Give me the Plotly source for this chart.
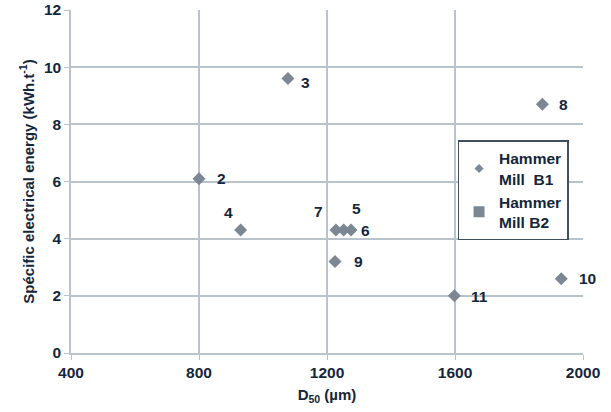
import plotly.graph_objects as go

labels = ["2", "3", "4", "5", "6", "7", "8", "9", "10", "11"]
d50 = [800, 1078, 930, 1252, 1275, 1228, 1873, 1225, 1932, 1598]
energy = [6.1, 9.6, 4.3, 4.3, 4.3, 4.3, 8.7, 3.2, 2.6, 2.0]
label_dx = [22, 18, -12, 13, 14, -17, 21, 23, 26, 25]
label_dy = [0, -4, 18, 22, 0, 19, 0, 0, 0, -1]

x_ticks = [400, 800, 1200, 1600, 2000]
y_ticks = [0, 2, 4, 6, 8, 10, 12]

marker_col = "#7b8792"
grid_col = "#b9c3cc"
text_col = "#13263a"
font_family = "Liberation Sans, Arial, sans-serif"

fig = go.Figure()
fig.add_trace(go.Scatter(
    x=d50, y=energy, mode="markers", name="Hammer Mill B1", showlegend=False,
    marker=dict(symbol="diamond", size=10, color=marker_col),
))
# legend entries
fig.add_trace(go.Scatter(
    x=[None], y=[None], mode="markers", name="<b>Hammer<br>Mill  B1</b>",
    marker=dict(symbol="diamond", size=7, color=marker_col),
))
fig.add_trace(go.Scatter(
    x=[None], y=[None], mode="markers", name="<b>Hammer<br>Mill B2</b>",
    marker=dict(symbol="square", size=11, color=marker_col),
))

for lab, xv, yv, dx, dy in zip(labels, d50, energy, label_dx, label_dy):
    fig.add_annotation(x=xv, y=yv, text="<b>%s</b>" % lab, showarrow=False,
                       xshift=dx, yshift=dy,
                       font=dict(size=15.5, color=text_col, family=font_family))

tickfont = dict(size=15.5, color=text_col, family=font_family, weight="bold")
fig.update_xaxes(range=[400, 2000], tickvals=x_ticks, showgrid=True, gridcolor=grid_col,
                 gridwidth=1.5, showline=True, linecolor=grid_col, linewidth=1.5,
                 ticks="outside", ticklen=5, tickcolor=grid_col, zeroline=False,
                 tickfont=tickfont, automargin=False,
                 title=dict(text="<b>D<sub>50</sub> (µm)</b>", standoff=9,
                            font=dict(size=15, color=text_col, family=font_family)))
fig.update_yaxes(range=[0, 12], tickvals=y_ticks, showgrid=True, gridcolor=grid_col,
                 gridwidth=1.5, showline=True, linecolor=grid_col, linewidth=1.5,
                 ticks="outside", ticklen=5, tickcolor=grid_col, zeroline=False,
                 tickfont=tickfont, automargin=False,
                 title=dict(text="<b>Spécific electrical energy (kWh.t<sup>-1</sup>)</b>", standoff=6,
                            font=dict(size=15, color=text_col, family=font_family)))

fig.update_layout(
    width=611, height=412,
    margin=dict(l=71, r=28, t=10, b=59),
    plot_bgcolor="white", paper_bgcolor="white",
    font=dict(family=font_family, color=text_col),
    legend=dict(x=0.755, y=0.62, xanchor="left", yanchor="top",
                bordercolor="#3f4f5f", borderwidth=1.5, bgcolor="white",
                font=dict(size=15.5, color=text_col, family=font_family),
                itemsizing="trace", tracegroupgap=0, itemwidth=30),
    showlegend=True,
)

fig.write_html("out.html", config={"displayModeBar": False},
               post_script="document.body.style.margin='0';")
